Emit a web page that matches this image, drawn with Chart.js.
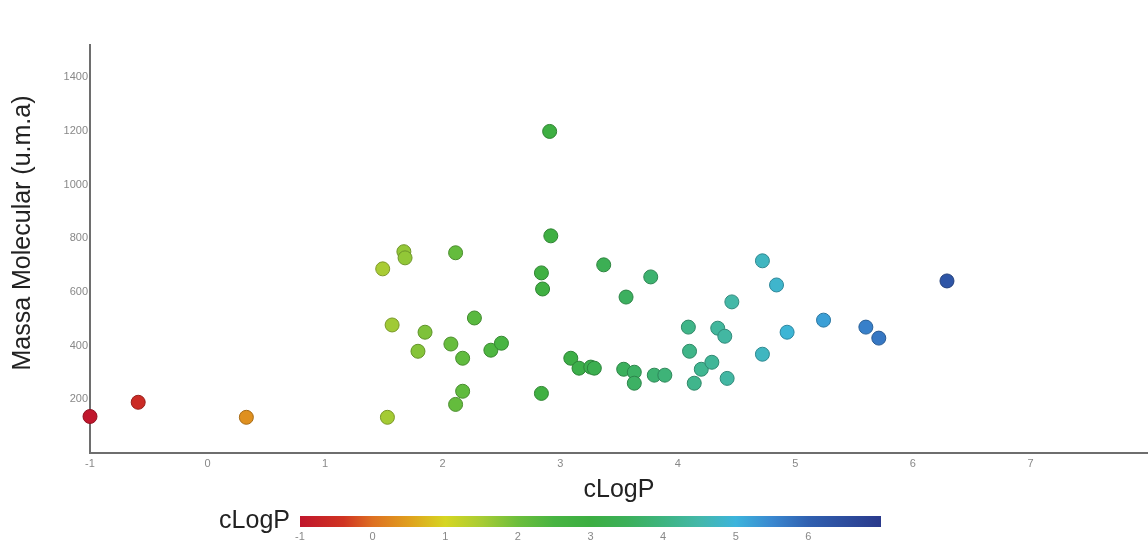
<!DOCTYPE html>
<html>
<head>
<meta charset="utf-8">
<script src="https://cdn.jsdelivr.net/npm/chart.js@4"></script>
<style>
  html, body { margin: 0; padding: 0; background: #fff; }
  #wrap { width: 1148px; height: 543px; }
</style>
</head>
<body>
<div id="wrap"><canvas id="chart" width="1148" height="543"></canvas></div>
<script>
// cLogP (x) and molecular mass (y) for every compound
const clogp = [
  -1.0, -0.59, 0.33, 1.49, 1.53, 1.57, 1.67, 1.68, 1.79, 1.85,
  2.11, 2.07, 2.17, 2.27, 2.11, 2.17, 2.41, 2.50, 2.91, 2.92,
  2.84, 2.85, 2.84, 3.09, 3.16, 3.26, 3.29, 3.37, 3.56, 3.77,
  3.54, 3.63, 3.63, 3.80, 3.89, 4.09, 4.10, 4.14, 4.20, 4.29,
  4.34, 4.40, 4.46, 4.42, 4.72, 4.84, 4.72, 4.93, 5.24, 5.60,
  5.71, 6.29
];
const massa = [
  136, 189, 133, 686, 133, 477, 750, 727, 379, 450,
  746, 406, 353, 503, 181, 230, 383, 409, 1198, 809,
  671, 611, 222, 353, 316, 320, 316, 701, 581, 656,
  312, 301, 260, 290, 290, 469, 379, 260, 312, 338,
  465, 435, 563, 278, 716, 626, 368, 450, 495, 469,
  428, 641
];

const xTicks = [-1, 0, 1, 2, 3, 4, 5, 6, 7];
const yTicks = [200, 400, 600, 800, 1000, 1200, 1400];
const barTicks = [-1, 0, 1, 2, 3, 4, 5, 6];
const barMin = -1, barMax = 7;

const FONT = '"Liberation Sans", Arial, sans-serif';

// colour map used for both the points and the colour bar
const stops = [
  [-1, [192, 22, 44]],
  [-0.4, [208, 52, 34]],
  [0, [222, 112, 34]],
  [0.5, [224, 160, 30]],
  [1, [214, 214, 34]],
  [1.5, [168, 204, 52]],
  [2, [108, 190, 60]],
  [2.5, [72, 180, 66]],
  [3, [60, 174, 66]],
  [3.5, [60, 176, 90]],
  [4, [62, 180, 128]],
  [4.5, [68, 184, 170]],
  [5, [60, 180, 220]],
  [5.5, [58, 136, 208]],
  [6, [48, 96, 176]],
  [7, [42, 58, 140]]
];

function cmap(v, dark) {
  let c = stops[stops.length - 1][1];
  if (v <= stops[0][0]) c = stops[0][1];
  for (let i = 0; i < stops.length - 1; i++) {
    const [a, ca] = stops[i], [b, cb] = stops[i + 1];
    if (v >= a && v <= b) {
      const t = (v - a) / (b - a);
      c = ca.map((k, j) => k + (cb[j] - k) * t);
      break;
    }
  }
  const f = dark ? 0.75 : 1;
  return `rgb(${c.map(k => Math.round(k * f)).join(',')})`;
}

const points = clogp.map((x, i) => ({ x, y: massa[i] }));

// y title and the colour bar underneath the plot
const extras = {
  id: 'extras',
  afterDraw(chart) {
    const ctx = chart.ctx;
    ctx.save();
    ctx.fillStyle = '#222';
    ctx.font = `25px ${FONT}`;
    ctx.textAlign = 'center';
    ctx.textBaseline = 'middle';
    ctx.translate(23, 233);
    ctx.rotate(-Math.PI / 2);
    ctx.fillText('Massa Molecular (u.m.a)', 0, 0);
    ctx.restore();

    const x0 = 300, x1 = 881, y0 = 516, h = 11;
    const grad = ctx.createLinearGradient(x0, 0, x1, 0);
    stops.forEach(([v]) => {
      grad.addColorStop((v - barMin) / (barMax - barMin), cmap(v));
    });
    ctx.save();
    ctx.fillStyle = grad;
    ctx.fillRect(x0, y0, x1 - x0, h);
    ctx.fillStyle = '#222';
    ctx.font = `25px ${FONT}`;
    ctx.textAlign = 'right';
    ctx.textBaseline = 'middle';
    ctx.fillText('cLogP', 290, 521);
    ctx.fillStyle = '#888';
    ctx.font = `11px ${FONT}`;
    ctx.textAlign = 'center';
    barTicks.forEach(t => {
      const px = x0 + (t - barMin) / (barMax - barMin) * (x1 - x0);
      ctx.fillText(String(t), px, 537);
    });
    ctx.restore();
  }
};

new Chart(document.getElementById('chart'), {
  type: 'scatter',
  data: {
    datasets: [{
      data: points,
      clip: false,
      pointRadius: 7,
      pointHoverRadius: 7,
      borderWidth: 1,
      backgroundColor: c => cmap(c.raw.x),
      borderColor: c => cmap(c.raw.x, true)
    }]
  },
  options: {
    responsive: false,
    animation: false,
    layout: { autoPadding: false, padding: { top: 45, right: 0, bottom: 38, left: 0 } },
    plugins: {
      legend: { display: false },
      tooltip: { enabled: false }
    },
    scales: {
      x: {
        type: 'linear',
        min: -1,
        max: 8,
        grid: { display: false, drawTicks: false },
        border: { display: true, color: '#6e6e6e', width: 2 },
        ticks: {
          stepSize: 1,
          padding: 4,
          color: '#888',
          font: { size: 11, family: FONT },
          callback: v => (xTicks.includes(v) ? String(v) : '')
        },
        title: {
          display: true,
          text: 'cLogP',
          color: '#222',
          font: { size: 25, family: FONT },
          padding: { top: 0, bottom: 0 }
        },
        afterFit: s => { s.height = 52; s.paddingLeft = 0; s.paddingRight = 0; }
      },
      y: {
        type: 'linear',
        min: 0,
        max: 1520,
        grid: { display: false, drawTicks: false },
        border: { display: true, color: '#6e6e6e', width: 2 },
        ticks: {
          stepSize: 200,
          padding: 2,
          color: '#888',
          font: { size: 11, family: FONT },
          callback: v => (yTicks.includes(v) ? String(v) : '')
        },
        afterFit: s => { s.width = 90; s.paddingTop = 0; s.paddingBottom = 0; }
      }
    }
  },
  plugins: [extras]
});
</script>
</body>
</html>
